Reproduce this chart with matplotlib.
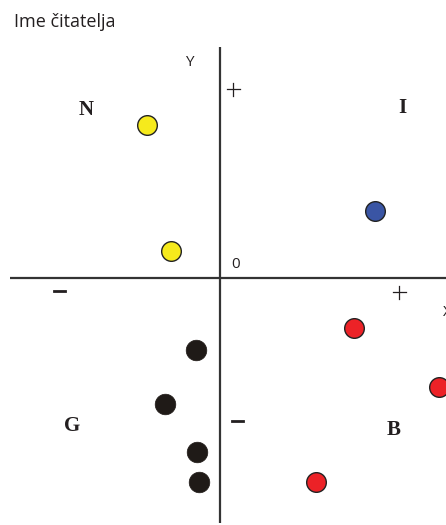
import matplotlib
matplotlib.use("Agg")
import matplotlib.pyplot as plt

# data (units relative to the origin of the cross)
yellow_x = [-73, -49]
yellow_y = [153, 27]
blue_x = [155]
blue_y = [67]
red_x = [134, 219, 96]
red_y = [-50, -109, -204]
black_x = [-24, -55, -23, -21]
black_y = [-72, -126, -174, -204]

quadrant_labels = ["N", "I", "G", "B"]
title = "Ime čitatelja"

fig = plt.figure(figsize=(4.46, 5.25), dpi=100)
ax = fig.add_axes([0, 0, 1, 1])
ax.set_xlim(-220, 226)
ax.set_ylim(-247, 278)
ax.axis("off")

axis_col = "#333333"
ax.plot([0, 0], [-245, 231], color=axis_col, lw=1.6, solid_capstyle="butt")
ax.plot([-210, 226], [0, 0], color=axis_col, lw=1.6, solid_capstyle="butt")

ms = 200
ax.scatter(yellow_x, yellow_y, s=ms, color="#f6ea1c", edgecolor="#222222", linewidth=1.0, zorder=3)
ax.scatter(blue_x, blue_y, s=ms, color="#3a55a4", edgecolor="#222222", linewidth=1.0, zorder=3)
ax.scatter(red_x, red_y, s=ms, color="#ec2227", edgecolor="#222222", linewidth=1.0, zorder=3)
ax.scatter(black_x, black_y, s=ms + 20, color="#1f1a17", edgecolor="#1f1a17", linewidth=0.5, zorder=3)

txt_col = "#231f20"
sans = ["Open Sans", "DejaVu Sans"]
fig.text(14 / 446, 1 - 22 / 525, title, fontsize=13, family=sans, color=txt_col, va="center", ha="left")
ax.text(-31, 216, "Y", fontsize=11, family=sans, color=txt_col, ha="center", va="center")
ax.text(16, 13, "0", fontsize=11, family=sans, color=txt_col, ha="center", va="center")
ax.text(223, -34, "X", fontsize=11, family=sans, color=txt_col, ha="left", va="center")

# thin plus signs
for cx, cy in [(13, 189), (179, -14)]:
    ax.plot([cx - 6.5, cx + 6.5], [cy, cy], color=txt_col, lw=0.9)
    ax.plot([cx, cx], [cy - 6.5, cy + 6.5], color=txt_col, lw=0.9)
# minus signs
ax.plot([-166, -155], [-13, -13], color=txt_col, lw=2.0)
ax.plot([12, 23], [-143, -143], color=txt_col, lw=2.0)

serif = ["Liberation Serif", "DejaVu Serif"]
qx = [-134, 182, -148, 174]
qy = [168, 170, -148, -152]
for lab, x, y in zip(quadrant_labels, qx, qy):
    ax.text(x, y, lab, fontsize=15, family=serif, weight="bold", color=txt_col, ha="center", va="center")

fig.savefig("out.png", dpi=100)
